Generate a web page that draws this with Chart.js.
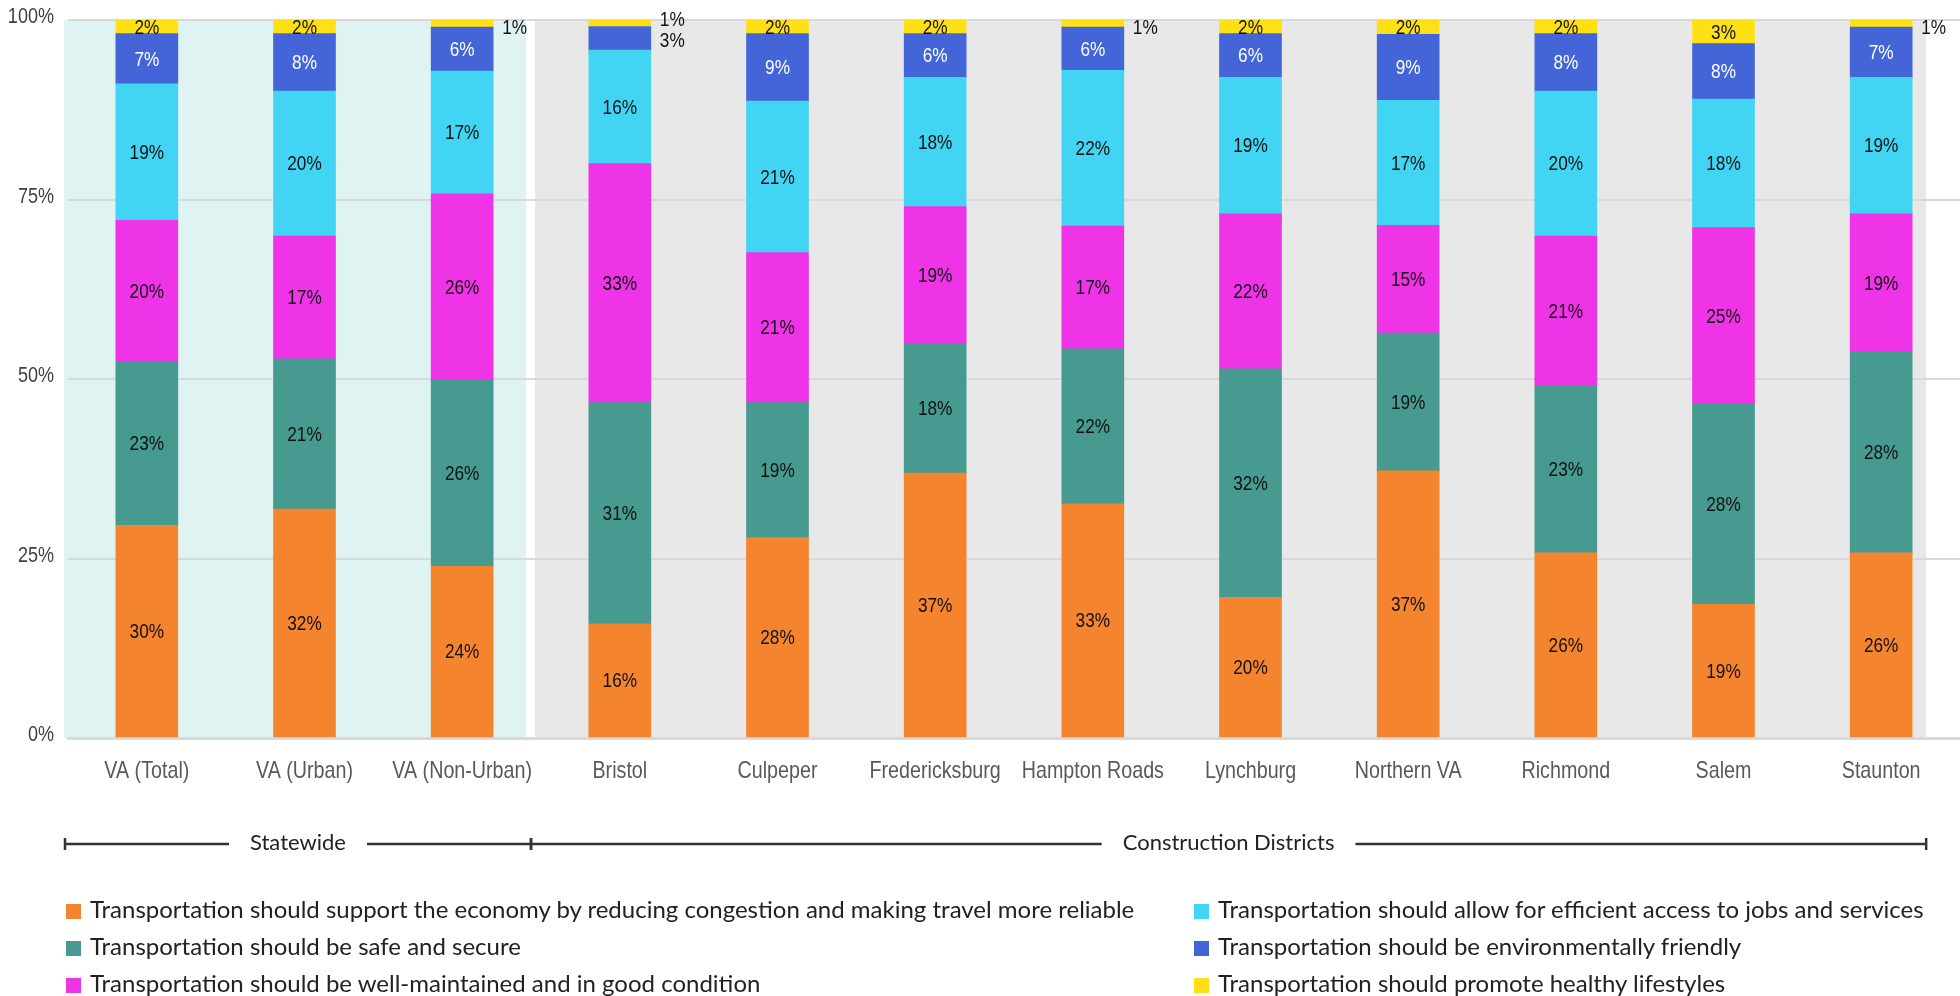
<!DOCTYPE html>
<html>
<head>
<meta charset="utf-8">
<script src="https://cdn.jsdelivr.net/npm/chart.js@4.4.0/dist/chart.umd.min.js"></script>
<style>
  html, body { margin: 0; padding: 0; background: #fff; }
  #wrap { position: relative; width: 1960px; height: 996px; }
  #legend { position: absolute; left: 66px; top: 890px; width: 1894px; font-family: Lato, sans-serif; font-size: 24px; color: #222; }
  .col { position: absolute; top: 0; }
  .item { height: 37px; line-height: 37px; white-space: nowrap; }
  .sw { display: inline-block; width: 15px; height: 15px; margin-right: 9px; vertical-align: -1px; }
</style>
</head>
<body>
<div id="wrap">
  <canvas id="chart" width="1960" height="996"></canvas>
  <div id="legend"></div>
</div>
<script>
// Categories on the x axis
const categories = ['VA (Total)', 'VA (Urban)', 'VA (Non-Urban)', 'Bristol', 'Culpeper', 'Fredericksburg',
    'Hampton Roads', 'Lynchburg', 'Northern VA', 'Richmond', 'Salem', 'Staunton'];
const groups = ['Statewide', 'Construction Districts'];
const yTicks = [0, 25, 50, 75, 100];

// share of answers per priority (percent)
const economy = [29.6, 31.9, 23.9, 15.9, 27.9, 36.9, 32.6, 19.6, 37.2, 25.8, 18.6, 25.8];
const safe = [22.8, 20.9, 25.9, 30.8, 18.8, 18.0, 21.6, 31.8, 19.2, 23.2, 27.9, 28.0];
const maintained = [19.7, 17.1, 26.0, 33.3, 20.9, 19.1, 17.1, 21.6, 15.0, 20.9, 24.6, 19.2];
const access = [19.0, 20.2, 17.1, 15.8, 21.1, 18.0, 21.7, 19.0, 17.4, 20.2, 17.9, 19.0];
const environment = [7.0, 8.0, 6.1, 3.3, 9.4, 6.1, 6.0, 6.1, 9.2, 8.0, 7.7, 7.0];
const healthy = [1.9, 1.9, 1.0, 0.9, 1.9, 1.9, 1.0, 1.9, 2.0, 1.9, 3.3, 1.0];

const seriesNames = [
    'Transportation should support the economy by reducing congestion and making travel more reliable',
    'Transportation should be safe and secure',
    'Transportation should be well-maintained and in good condition',
    'Transportation should allow for efficient access to jobs and services',
    'Transportation should be environmentally friendly',
    'Transportation should promote healthy lifestyles'
];
const seriesData = [economy, safe, maintained, access, environment, healthy];
const colors = ['#F5842F', '#469A8F', '#EE34E6', '#42D4F3', '#4365D8', '#FFE015'];
const labelColors = ['#111', '#111', '#111', '#111', '#fff', '#111'];

const SANS = '"Liberation Sans", Arial, sans-serif';

// no narrow font installed, so squeeze Liberation Sans sideways
function narrowText(c, text, px, py, align, color) {
    c.save();
    c.translate(px, py);
    c.scale(0.82, 1);
    c.textAlign = align;
    c.textBaseline = 'middle';
    c.fillStyle = color;
    c.fillText(text, 0, 0);
    c.restore();
}

// backgrounds behind the two groups
const bgPlugin = {
    id: 'groupBg',
    beforeDraw(chart) {
        const c = chart.ctx, a = chart.chartArea, x = chart.scales.x;
        const step = x.getPixelForValue(1) - x.getPixelForValue(0);
        const split = x.getPixelForValue(2) + step / 2;
        const lastRight = x.getPixelForValue(categories.length - 1) + 45;
        c.save();
        c.fillStyle = '#DFF4F2';
        c.fillRect(a.left - 4, a.top, split - 15 - (a.left - 4), a.bottom - a.top);
        c.fillStyle = '#E8E8E8';
        c.fillRect(split - 6, a.top, lastRight - (split - 6), a.bottom - a.top);
        c.restore();
    },
    afterDraw(chart) {
        const c = chart.ctx, a = chart.chartArea, x = chart.scales.x, y = chart.scales.y;

        // axis labels
        c.font = '24px ' + SANS;
        categories.forEach((lab, i) => narrowText(c, lab, x.getPixelForValue(i), 771, 'center', '#595959'));
        c.font = '22px ' + SANS;
        yTicks.forEach(v => narrowText(c, v + '%', 54, y.getPixelForValue(v) - 3, 'right', '#404040'));

        // group brackets under the axis
        const step = x.getPixelForValue(1) - x.getPixelForValue(0);
        const split = x.getPixelForValue(2) + step / 2 - 10;
        const ends = [[a.left - 3, split], [split, x.getPixelForValue(categories.length - 1) + 45]];
        const by = 844;
        c.save();
        c.strokeStyle = '#333';
        c.lineWidth = 2.5;
        c.font = '22px Lato, sans-serif';
        c.fillStyle = '#222';
        c.textAlign = 'center';
        c.textBaseline = 'middle';
        ends.forEach((e, i) => {
            const mid = (e[0] + e[1]) / 2;
            const tw = c.measureText(groups[i]).width / 2 + 21;
            c.beginPath();
            c.moveTo(e[0], by); c.lineTo(mid - tw, by);
            c.moveTo(mid + tw, by); c.lineTo(e[1], by);
            c.moveTo(e[0], by - 6); c.lineTo(e[0], by + 6);
            c.moveTo(e[1], by - 6); c.lineTo(e[1], by + 6);
            c.stroke();
            c.fillText(groups[i], mid, by - 1);
        });
        c.restore();
    }
};

// percent labels on the segments
const labelPlugin = {
    id: 'segLabels',
    afterDatasetsDraw(chart) {
        const c = chart.ctx;
        c.save();
        c.font = '21px ' + SANS;
        for (let j = 0; j < categories.length; j++) {
            const outside = [];
            for (let i = seriesData.length - 1; i >= 0; i--) {
                const v = seriesData[i][j];
                const above = outside.length > 0 && outside[outside.length - 1].i === i + 1;
                if (v < 1.5 || (v < 4 && above)) {
                    const bar = chart.getDatasetMeta(i).data[j];
                    outside.push({ i: i, v: v, bar: bar, y: (bar.y + bar.base) / 2 });
                }
            }
            for (let i = 0; i < seriesData.length; i++) {
                if (outside.some(o => o.i === i)) continue;
                const bar = chart.getDatasetMeta(i).data[j];
                narrowText(c, Math.round(seriesData[i][j]) + '%', bar.x, (bar.y + bar.base) / 2 + 1, 'center', labelColors[i]);
            }
            if (outside.length === 1) {
                outside[0].y += 5;
            } else if (outside.length > 1) {
                const m = outside.reduce((s, o) => s + o.y, 0) / outside.length;
                outside.forEach((o, k) => { o.y = m + (k - (outside.length - 1) / 2) * 21; });
            }
            outside.forEach(o => {
                narrowText(c, Math.round(o.v) + '%', o.bar.x + o.bar.width / 2 + 9, o.y, 'left', '#111');
            });
        }
        c.restore();
    }
};

const ctx = document.getElementById('chart').getContext('2d');
const chart = new Chart(ctx, {
    type: 'bar',
    data: {
        labels: categories,
        datasets: seriesData.map((d, i) => ({
            label: seriesNames[i],
            data: d,
            backgroundColor: colors[i],
            borderWidth: 0,
            barThickness: 62
        }))
    },
    options: {
        responsive: false,
        animation: false,
        layout: { padding: { top: 20, bottom: 198, left: 0, right: 0 } },
        plugins: { legend: { display: false }, tooltip: { enabled: false } },
        scales: {
            x: {
                stacked: true,
                grid: { display: false, drawTicks: false },
                border: { color: '#D9D9D9', width: 3 },
                ticks: { display: false },
                afterFit: s => { s.height = 60; }
            },
            y: {
                stacked: true,
                min: 0, max: 100,
                afterBuildTicks: s => { s.ticks = yTicks.map(v => ({ value: v })); },
                grid: { color: '#D9D9D9', lineWidth: 2, drawTicks: false },
                border: { display: false },
                ticks: { display: false },
                afterFit: s => { s.width = 68; }
            }
        }
    },
    plugins: [bgPlugin, labelPlugin]
});

// two-column legend, filled down each column
const legend = document.getElementById('legend');
[[0, 1, 2], [3, 4, 5]].forEach((col, ci) => {
    const div = document.createElement('div');
    div.className = 'col';
    div.style.left = (ci === 0 ? 0 : 1128) + 'px';
    col.forEach(i => {
        const row = document.createElement('div');
        row.className = 'item';
        row.innerHTML = '<span class="sw" style="background:' + colors[i] + '"></span>' + seriesNames[i];
        div.appendChild(row);
    });
    legend.appendChild(div);
});
</script>
</body>
</html>
